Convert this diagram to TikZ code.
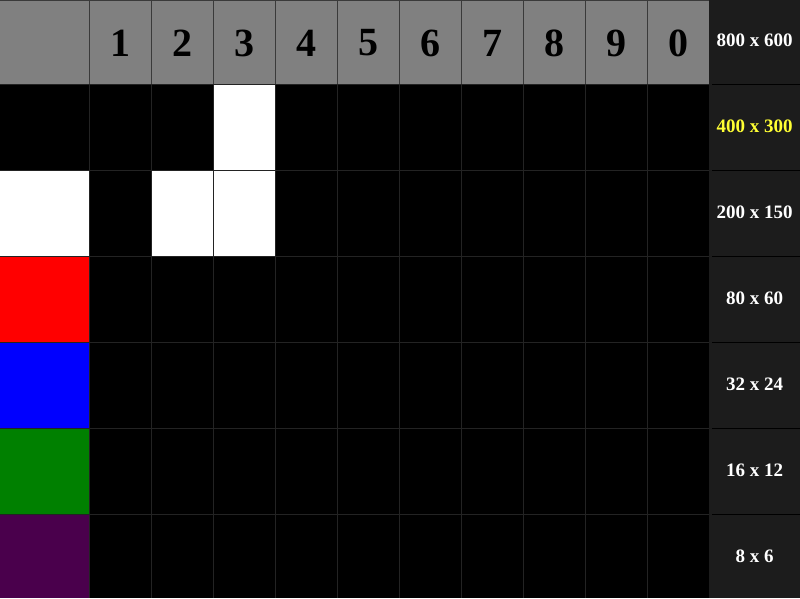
\documentclass[tikz,border=0pt]{standalone}
\usepackage{fontspec}
\setmainfont{Liberation Serif}
\definecolor{headgray}{HTML}{808080}
\definecolor{sidegray}{HTML}{1C1C1C}
\definecolor{gridline}{HTML}{232323}
\definecolor{headline}{HTML}{3A3A3A}
\definecolor{swpurple}{HTML}{4A004C}
\definecolor{labyellow}{HTML}{FFFF33}
\tikzset{
  digit/.style={font=\fontsize{40}{40}\selectfont\bfseries, text=black},
  sizelabel/.style={font=\fontsize{19}{19}\selectfont\bfseries, text=white},
}

\begin{document}
\begin{tikzpicture}[x=1pt,y=-1pt]
    \useasboundingbox (0,0) rectangle (800,598);
    % black field and side column
    \fill[black] (0,0) rectangle (709,598);
    \fill[sidegray] (709,0) rectangle (800,598);
    % header
    \fill[headgray] (0,0) rectangle (709,84);
    % white cells
    \fill[white] (213,84) rectangle (275,170);
    \fill[white] (0,170) rectangle (89,256);
    \fill[white] (151,170) rectangle (275,256);
    % colour swatches
    \fill[red] (0,256) rectangle (89,342);
    \fill[blue] (0,342) rectangle (89,428);
    \fill[green!50!black] (0,428) rectangle (89,514);
    \fill[swpurple] (0,514) rectangle (89,598);
    % grid
    \foreach \c in {89,151,...,647} {
      \draw[gridline] (\c,84) -- (\c,598);
      \draw[headline] (\c,0) -- (\c,84);
    }
    \foreach \r in {84,170,...,514}
      \draw[gridline] (0,\r) -- (709,\r);
    \foreach \r in {84,170,...,514}
      \draw[black] (712,\r) -- (800,\r);
    \draw[headline] (0,0.5) -- (709,0.5);
    % column numbers
    \foreach \d [count=\i] in {1,2,3,4,5,6,7,8,9,0}
      \node[digit] (col\i) at ({89+62*(\i-1)+31},43) {\d};
    % resolutions
    \node[sizelabel] (res1) at (754.5,40) {800 x 600};
    \node[sizelabel, text=labyellow] (res2) at (754.5,126) {400 x 300};
    \node[sizelabel] (res3) at (754.5,212) {200 x 150};
    \node[sizelabel] (res4) at (754.5,298) {80 x 60};
    \node[sizelabel] (res5) at (754.5,384) {32 x 24};
    \node[sizelabel] (res6) at (754.5,470) {16 x 12};
    \node[sizelabel] (res7) at (754.5,556) {8 x 6};
\end{tikzpicture}
\end{document}
